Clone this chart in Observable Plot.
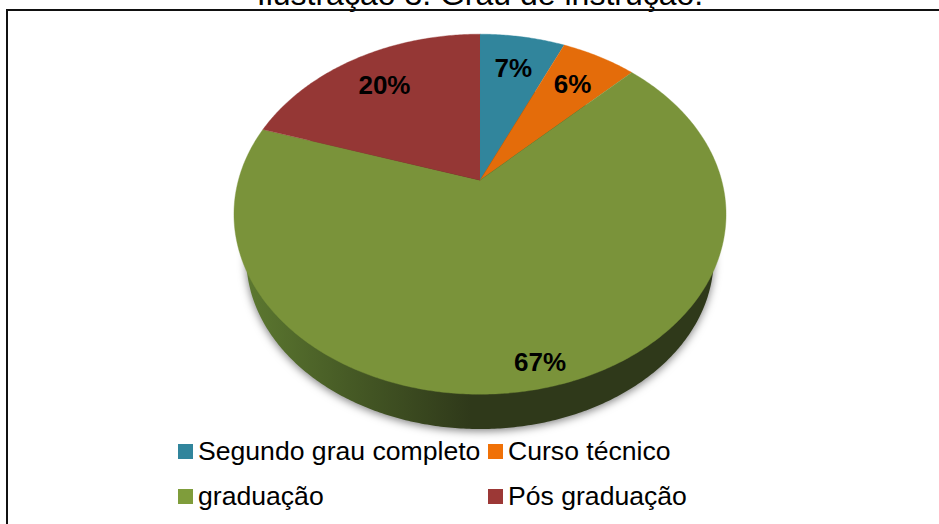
<!DOCTYPE html>
<html lang="pt">
<head>
<meta charset="utf-8">
<script src="https://cdn.jsdelivr.net/npm/d3@7"></script>
<script src="https://cdn.jsdelivr.net/npm/@observablehq/plot@0.6"></script>
<style>
html,body{margin:0;padding:0;background:#fff;overflow:hidden;width:939px;height:524px;font-family:"Liberation Sans",Arial,sans-serif;color:#000}
#title{position:absolute;left:0;width:960px;top:-21px;text-align:center;font-size:32px;line-height:30px;white-space:nowrap}
#frame{position:absolute;left:6px;top:9px;width:960px;height:540px;border-left:2px solid #111;border-top:2px solid #111}
#chart{position:absolute;left:0;top:0}
#chart svg{display:block}
#legend{position:absolute;left:178px;top:433px;display:grid;grid-template-columns:310px auto;grid-auto-rows:45.5px;font-size:26.6px}
#legend div{display:flex;align-items:center;white-space:nowrap;height:36px}
#legend i{display:inline-block;width:15px;height:15px;margin-right:5px}
</style>
</head>
<body>
<div id="title">Ilustração 3. Grau de instrução.</div>
<div id="frame"></div>
<div id="chart"></div>
<div id="legend"></div>
<script>
const categories = ["Segundo grau completo", "Curso técnico", "graduação", "Pós graduação"];
const shares = [6.7, 5.9, 67.4, 20.0];
const sliceColors = ["#31859c", "#e46c0a", "#7a933a", "#953735"];
const swatchColors = ["#31859c", "#f07107", "#7f9d3b", "#9c3836"];

// perspective of the tilted disc: far side is compressed
const tilt = 0.189;
const project = (angle, r = 1) => {
  const u = r * Math.sin(angle), v = r * Math.cos(angle), w = 1 + tilt * v;
  return {x: u / w, y: v / w};
};
const turn = 2 * Math.PI / d3.sum(shares);

let running = 0;
const slices = categories.map((name, i) => {
  const a0 = running * turn;
  running += shares[i];
  return {name, a0, a1: running * turn, share: shares[i]};
});

const outline = slices.flatMap(s => {
  const n = Math.max(2, Math.ceil((s.a1 - s.a0) / 0.01));
  return [
    {name: s.name, x: 0, y: 0},
    ...d3.range(n + 1).map(k => ({name: s.name, ...project(s.a0 + (s.a1 - s.a0) * k / n)}))
  ];
});

const labels = slices.map(s => ({
  text: Math.round(s.share) + "%",
  ...project((s.a0 + s.a1) / 2, s.share > 50 ? 0.9 : 0.75)
}));

// wall: the same disc seen lower down and slightly farther away
const wallScale = 0.95, wallDrop = 0.262;
const wall = d3.range(0, 2 * Math.PI + 0.01, 0.01).map(a => {
  const p = project(a);
  return {x: p.x * wallScale, y: p.y * wallScale - wallDrop};
});

const plot = Plot.plot({
  width: 939, height: 440, margin: 0,
  style: {background: "transparent"},
  x: {domain: [-1, 1], range: [237.9, 721.1], axis: null},
  y: {domain: [-1, 1], range: [353.3, 6.1], axis: null},
  color: {domain: categories, range: sliceColors},
  marks: [
    Plot.line(wall, {x: "x", y: "y", fill: "url(#wallShade)", stroke: "none",
      imageFilter: "drop-shadow(0px 2px 4px rgba(0,0,0,0.5))"}),
    Plot.line(outline, {x: "x", y: "y", z: "name", fill: "name", stroke: "name", strokeWidth: 0.4}),
    Plot.text(labels, {x: "x", y: "y", text: "text", fontSize: 26, fontWeight: "bold",
      fontFamily: "Liberation Sans, Arial, sans-serif", fill: "#000"})
  ]
});
const defs = d3.select(plot).insert("defs", ":first-child");
const grad = defs.append("linearGradient").attr("id", "wallShade")
  .attr("x1", 0).attr("x2", 1).attr("y1", 0).attr("y2", 0);
[[0, "#5c7830"], [0.22, "#465a25"], [0.48, "#2f391a"], [1, "#2f391a"]]
  .forEach(([o, c]) => grad.append("stop").attr("offset", o).attr("stop-color", c));
document.getElementById("chart").append(plot);

const legend = d3.select("#legend");
categories.forEach((name, i) => {
  const row = legend.append("div");
  row.append("i").style("background", swatchColors[i]);
  row.append("span").text(name);
});
</script>
</body>
</html>
